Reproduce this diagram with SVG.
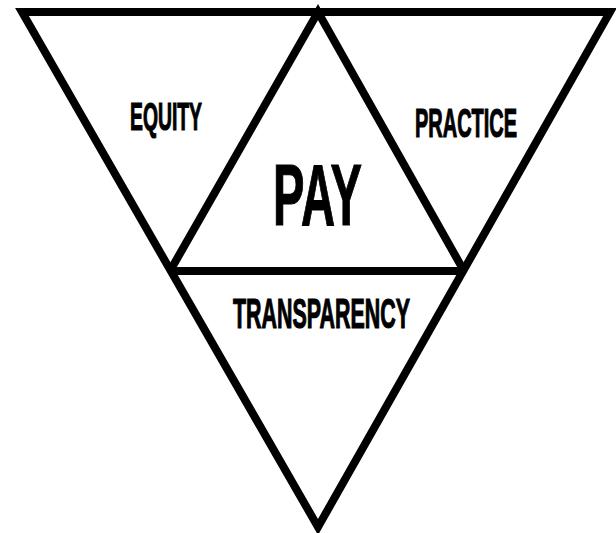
<svg xmlns="http://www.w3.org/2000/svg" width="616" height="533" viewBox="0 0 616 533">
<style>
.edge{fill:none;stroke:#000;stroke-width:8;stroke-linejoin:miter;stroke-miterlimit:10}
.lbl{font-family:"Liberation Sans",Arial,sans-serif;font-weight:bold;fill:#000;stroke:#000;stroke-width:1.2}
</style>
<rect width="616" height="533" fill="#fff"/>
<g id="connectors">
<polygon class="edge" points="22,12 610,12 318,527"/>
<polyline class="edge" points="170,271 318,12 464,271"/>
<line class="edge" x1="170" y1="271" x2="464" y2="271"/>
</g>
<g id="equity"><text class="lbl" x="130" y="130" font-size="39" textLength="72" lengthAdjust="spacingAndGlyphs">EQUITY</text></g>
<g id="practice"><text class="lbl" x="415" y="137" font-size="40.5" textLength="102" lengthAdjust="spacingAndGlyphs">PRACTICE</text></g>
<g id="pay"><text class="lbl" x="273" y="225" font-size="86.6" textLength="89" lengthAdjust="spacingAndGlyphs" stroke-width="2.5">PAY</text></g>
<g id="transparency"><text class="lbl" x="233" y="328" font-size="42" textLength="177" lengthAdjust="spacingAndGlyphs">TRANSPARENCY</text></g>
</svg>
